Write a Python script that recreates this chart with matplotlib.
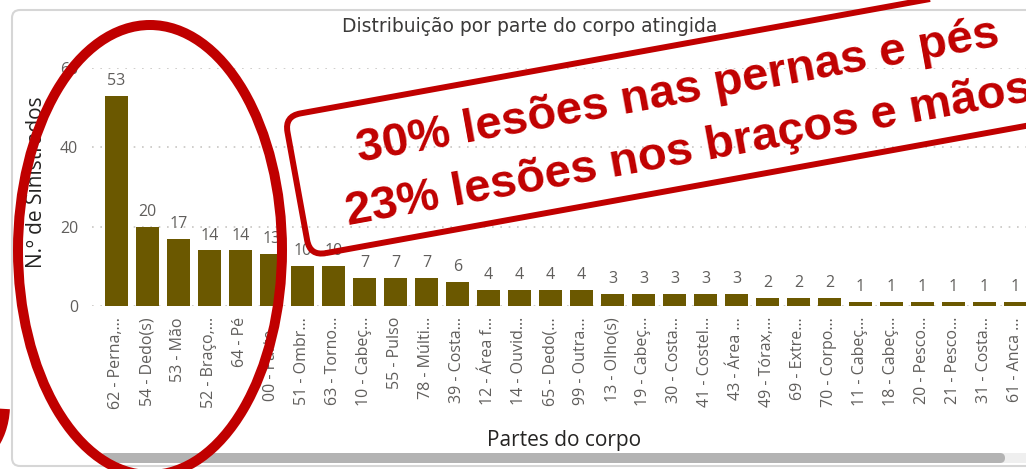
import numpy as np
import matplotlib
matplotlib.use("Agg")
import matplotlib.pyplot as plt
from matplotlib.patches import Ellipse, FancyBboxPatch, Arc, Rectangle
from matplotlib.transforms import Affine2D, IdentityTransform

# data
partes = ["62 - Perna,...", "54 - Dedo(s)", "53 - Mão", "52 - Braço,...", "64 - Pé",
          "00 - Parte...", "51 - Ombr...", "63 - Torno...", "10 - Cabeç...", "55 - Pulso",
          "78 - Múlti...", "39 - Costa...", "12 - Área f...", "14 - Ouvid...", "65 - Dedo(...",
          "99 - Outra...", "13 - Olho(s)", "19 - Cabeç...", "30 - Costa...", "41 - Costel...",
          "43 - Área ...", "49 - Tórax,...", "69 - Extre...", "70 - Corpo...", "11 - Cabeç...",
          "18 - Cabeç...", "20 - Pesco...", "21 - Pesco...", "31 - Costa...", "61 - Anca ..."]
sinistros = [53, 20, 17, 14, 14, 13, 10, 10, 7, 7, 7, 6, 4, 4, 4, 4, 3, 3, 3, 3, 3,
             2, 2, 2, 1, 1, 1, 1, 1, 1]
y_ticks = [0, 20, 40, 60]

titulo = "Distribuição por parte do corpo atingida"
nota = ["30% lesões nas pernas e pés", "23% lesões nos braços e mãos"]

W, H = 1026, 469
BAR = "#6B5800"
GRAY = "#605E5C"
DARK = "#252423"
RED = "#C00000"

plt.rcParams["font.family"] = ["Open Sans", "DejaVu Sans"]

fig = plt.figure(figsize=(W / 100, H / 100), dpi=100)
fig.patch.set_facecolor("white")

# panel frame
px = IdentityTransform()
fig.add_artist(FancyBboxPatch((12, 3), 1100, 456, boxstyle="round,pad=0,rounding_size=8",
                              fc="none", ec="#D6D6D6", lw=1.5, transform=px))

ax = fig.add_axes([92 / W, (H - 306) / H, (W - 92) / W, (306 - 68) / H])
x = np.arange(len(partes))
bars = ax.bar(x, sinistros, width=0.74, color=BAR, zorder=2)
for xi, v in zip(x, sinistros):
    ax.annotate(str(v), (xi, v), xytext=(0, 5), textcoords="offset points",
                ha="center", va="bottom", fontsize=11.5, color=GRAY)

ax.set_xlim(-0.79, 29.34)
ax.set_ylim(0, 60)
ax.set_yticks(y_ticks)
ax.set_xticks(x)
ax.set_xticklabels(partes, rotation=90, fontsize=11.5, color=GRAY)
ax.tick_params(axis="x", length=0, pad=8)
ax.tick_params(axis="y", length=0, pad=10, labelsize=11.5, labelcolor=GRAY)
for s in ax.spines.values():
    s.set_visible(False)
ax.grid(axis="y", color="#C8C6C4", linestyle=(0, (1, 4)), lw=1.2, zorder=0)
ax.set_axisbelow(True)
ax.patch.set_alpha(0)

fig.text(530 / W, 1 - 27 / H, titulo, ha="center", va="center", fontsize=13.5,
         color="#3B3A39", family=["DejaVu Sans"])
fig.text(37 / W, 1 - 182 / H, "N.º de Sinistrados", rotation=90, ha="center",
         va="center", fontsize=15, color=DARK)
fig.text(564 / W, 1 - 440 / H, "Partes do corpo", ha="center", va="center",
         fontsize=15, color=DARK)

# scrollbar
fig.add_artist(Rectangle((1000, 6), 40, 10, fc="#EFEFEF", ec="none", transform=px))
fig.add_artist(FancyBboxPatch((100, 6), 905, 10, boxstyle="round,pad=0,rounding_size=5",
                              fc="#B3B3B3", ec="none", transform=px))

# red annotations
fig.add_artist(Ellipse((150, H - 250), 264, 450, fill=False, ec=RED, lw=7.2,
                       transform=px, zorder=5))
fig.add_artist(Arc((-40, H - 405), 90, 120, theta1=-55, theta2=-5, ec=RED, lw=7.2,
                   transform=px, zorder=5))
ang = 10.3
box_tr = Affine2D().rotate_deg_around(310, H - 256, ang)
fig.add_artist(FancyBboxPatch((310, H - 256), 900, 142, boxstyle="round,pad=0,rounding_size=16",
                              fill=False, ec=RED, lw=4.3, transform=box_tr, zorder=5))
fig.text(680, H - 104, nota[0], transform=px, rotation=ang, rotation_mode="anchor",
         ha="center", va="baseline", fontsize=34, fontweight="bold", color=RED,
         family=["Liberation Sans", "DejaVu Sans"], zorder=6)
fig.text(691, H - 163, nota[1], transform=px, rotation=ang, rotation_mode="anchor",
         ha="center", va="baseline", fontsize=34, fontweight="bold", color=RED,
         family=["Liberation Sans", "DejaVu Sans"], zorder=6)

fig.savefig("out.png", dpi=100)
